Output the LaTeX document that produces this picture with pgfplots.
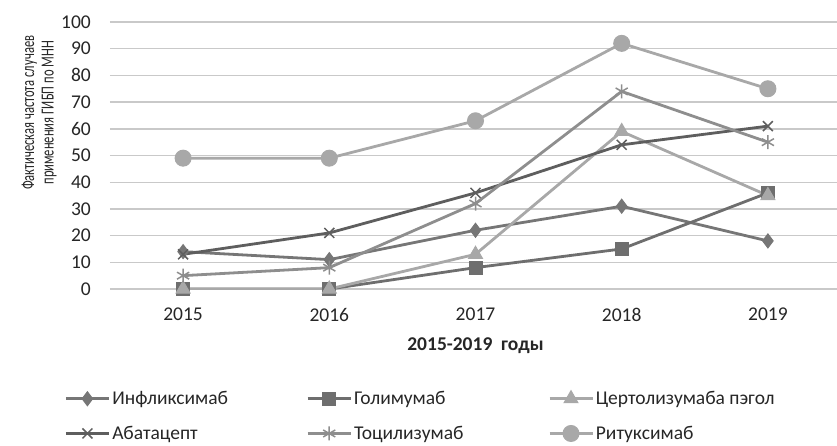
\documentclass[border=0pt]{standalone}
\usepackage{pgfplots}
\pgfplotsset{compat=1.18}
\usepackage{fontspec}
\setmainfont{Carlito}
\newfontfamily\ylabfont[FakeStretch=0.68]{Carlito}

\definecolor{gridgray}{HTML}{C9C9C9}
\definecolor{txt}{HTML}{262626}
\definecolor{cInf}{HTML}{767676}
\definecolor{cGol}{HTML}{6E6E6E}
\definecolor{cCer}{HTML}{A8A8A8}
\definecolor{cAba}{HTML}{5E5E5E}
\definecolor{cToc}{HTML}{8E8E8E}
\definecolor{cRit}{HTML}{A8A8A8}

\newcommand{\lbl}[1]{\makebox[192bp][l]{#1}}

\begin{document}
\begin{tikzpicture}
\begin{axis}[
  at={(0,0)}, anchor=south west,
  width=731bp, height=267bp, scale only axis,
  xmin=-0.5, xmax=4.5, ymin=0, ymax=100,
  xtick={0,1,2,3,4}, xticklabels={2015,2016,2017,2018,2019},
  ytick={0,10,...,100},
  ymajorgrids,
  major grid style={color=gridgray, line width=1.4bp},
  axis line style={draw=none},
  major tick length=0pt,
  /pgf/number format/assume math mode=true,
  tick label style={font=\fontsize{19.5bp}{23bp}\selectfont, text=txt},
  yticklabel style={anchor=east, inner sep=0pt, xshift=-19bp},
  xticklabel style={anchor=north, inner sep=0pt, yshift=-19bp},
  xlabel={2015-2019\ \ годы},
  xlabel style={at={(axis description cs:0.5,-0.2135)}, anchor=center,
    font=\bfseries\fontsize{19.5bp}{23bp}\selectfont, text=txt},
  ylabel={Фактическая частота случаев\\применения ГИБП по МНН},
  ylabel style={at={(axis description cs:-0.097,0.66)}, anchor=center,
    align=center, font=\ylabfont\fontsize{18.5bp}{19.5bp}\selectfont, text=txt},
  every axis plot/.append style={line width=2.8bp},
  legend columns=3,
  legend cell align=left,
  legend image code/.code={%
    \draw[#1, mark repeat=2, mark phase=2]
      plot coordinates {(0bp,0bp) (21.5bp,0bp) (43bp,0bp)};},
  legend style={
    at={(axis description cs:-0.0625,-0.476)}, anchor=west,
    draw=none, fill=none, inner sep=0pt,
    font=\fontsize{19.5bp}{23bp}\selectfont, text=txt,
    row sep=16bp,
    nodes={inner xsep=0pt},
    /tikz/every odd column/.append style={column sep=2bp},
    /tikz/every even column/.append style={column sep=2bp},
  },
]
% Инфликсимаб
\addplot[color=cInf, mark=diamond*, mark size=7bp,
  mark options={solid, fill=cInf, draw=cInf, line width=1bp}]
  coordinates {(0,14) (1,11) (2,22) (3,31) (4,18)};
\addlegendentry{\lbl{Инфликсимаб}}
% Голимумаб
\addplot[color=cGol, mark=square*, mark size=6.5bp,
  mark options={solid, fill=cGol, draw=cGol, line width=1bp}]
  coordinates {(0,0) (1,0) (2,8) (3,15) (4,36)};
\addlegendentry{\lbl{Голимумаб}}
% Цертолизумаба пэгол
\addplot[color=cCer, mark=triangle*, mark size=8bp,
  mark options={solid, fill=cCer, draw=cCer, line width=1bp}]
  coordinates {(0,0) (1,0) (2,13) (3,59) (4,35)};
\addlegendentry{\lbl{Цертолизумаба пэгол}}
% Абатацепт
\addplot[color=cAba, mark=x, mark size=7bp,
  mark options={solid, draw=cAba, line width=1.5bp}]
  coordinates {(0,13) (1,21) (2,36) (3,54) (4,61)};
\addlegendentry{\lbl{Абатацепт}}
% Тоцилизумаб
\addplot[color=cToc, mark=asterisk, mark size=7bp,
  mark options={solid, draw=cToc, line width=1.5bp}]
  coordinates {(0,5) (1,8) (2,32) (3,74) (4,55)};
\addlegendentry{\lbl{Тоцилизумаб}}
% Ритуксимаб
\addplot[color=cRit, mark=*, mark size=8bp,
  mark options={solid, fill=cRit, draw=cRit, line width=1bp}]
  coordinates {(0,49) (1,49) (2,63) (3,92) (4,75)};
\addlegendentry{\lbl{Ритуксимаб}}
\end{axis}
\pgfresetboundingbox
\useasboundingbox (-110bp,-157bp) rectangle (727bp,289bp);
\end{tikzpicture}
\end{document}
